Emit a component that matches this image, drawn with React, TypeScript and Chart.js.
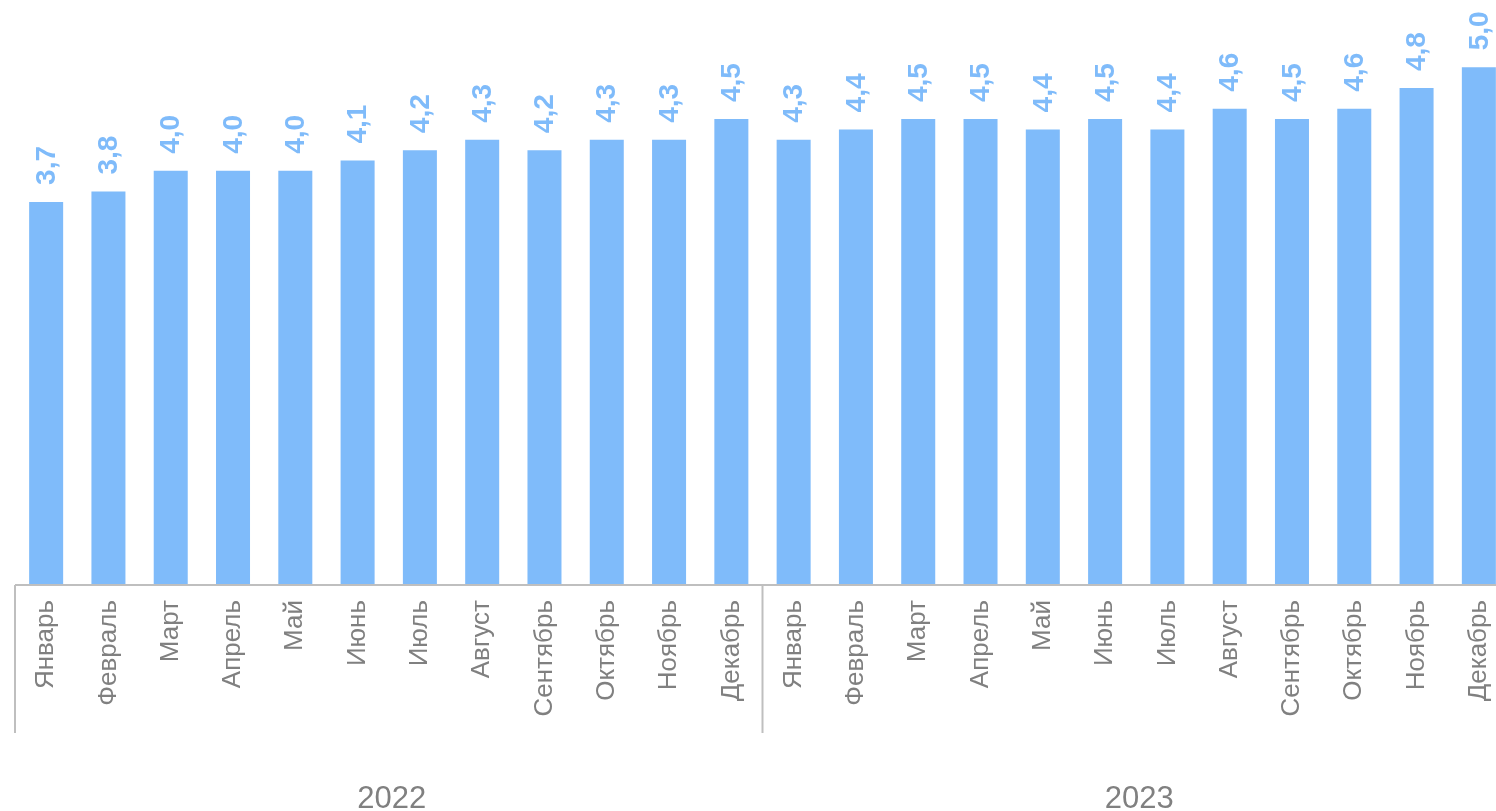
import React, { useEffect, useRef } from "react";
import { Chart, registerables } from "chart.js";

Chart.register(...registerables);

const months = [
  "Январь", "Февраль", "Март", "Апрель", "Май", "Июнь",
  "Июль", "Август", "Сентябрь", "Октябрь", "Ноябрь", "Декабрь",
];
const years = ["2022", "2023"];
const values2022 = [3.7, 3.8, 4.0, 4.0, 4.0, 4.1, 4.2, 4.3, 4.2, 4.3, 4.3, 4.5];
const values2023 = [4.3, 4.4, 4.5, 4.5, 4.4, 4.5, 4.4, 4.6, 4.5, 4.6, 4.8, 5.0];

const categories = [...months, ...months];
const values = [...values2022, ...values2023];

const BAR_COLOR = "#7fbbfa";
const AXIS_COLOR = "#bfbfbf";
const TEXT_COLOR = "#808080";
const FONT = "'Liberation Sans', Arial, sans-serif";

const overlayPlugin = {
  id: "overlay",
  afterDatasetsDraw(chart: any) {
    const { ctx } = chart;
    const meta = chart.getDatasetMeta(0);
    ctx.save();
    ctx.fillStyle = BAR_COLOR;
    ctx.font = `bold 28px ${FONT}`;
    ctx.textAlign = "left";
    ctx.textBaseline = "middle";
    meta.data.forEach((bar: any, i: number) => {
      const label = values[i].toFixed(1).replace(".", ",");
      ctx.save();
      ctx.translate(bar.x, bar.y - 17);
      ctx.rotate(-Math.PI / 2);
      ctx.fillText(label, 0, 1);
      ctx.restore();
    });
    ctx.restore();
  },
  afterDraw(chart: any) {
    const { ctx, chartArea } = chart;
    const x = chart.scales.x;
    const base = chartArea.bottom;
    const half = (x.getPixelForValue(1) - x.getPixelForValue(0)) / 2;
    ctx.save();
    ctx.strokeStyle = AXIS_COLOR;
    ctx.lineWidth = 2;
    ctx.beginPath();
    ctx.moveTo(chartArea.left, base);
    ctx.lineTo(chartArea.right, base);
    ctx.stroke();
    const n = months.length;
    for (let g = 0; g <= years.length; g++) {
      const px = g * n >= categories.length
        ? x.getPixelForValue(categories.length - 1) + half
        : x.getPixelForValue(g * n) - half;
      ctx.beginPath();
      ctx.moveTo(px, base);
      ctx.lineTo(px, base + 148);
      ctx.stroke();
    }
    ctx.fillStyle = TEXT_COLOR;
    ctx.font = `31px ${FONT}`;
    ctx.textAlign = "center";
    ctx.textBaseline = "alphabetic";
    years.forEach((y, g) => {
      const a = x.getPixelForValue(g * n) - half;
      const b = x.getPixelForValue(g * n + n - 1) + half;
      ctx.fillText(y, (a + b) / 2 + 3, 808);
    });
    ctx.restore();
  },
};

export default function App() {
  const ref = useRef<HTMLCanvasElement>(null);
  useEffect(() => {
    if (!ref.current) return;
    const chart = new Chart(ref.current, {
      type: "bar",
      data: {
        labels: categories,
        datasets: [
          {
            data: values,
            backgroundColor: BAR_COLOR,
            barPercentage: 0.546,
            categoryPercentage: 1,
          },
        ],
      },
      options: {
        animation: false,
        responsive: false,
        maintainAspectRatio: false,
        layout: { padding: { left: 15, right: 0, top: 0, bottom: 0 } },
        plugins: {
          legend: { display: false },
          tooltip: { enabled: false },
        },
        scales: {
          x: {
            grid: { display: false, drawTicks: false },
            border: { display: false },
            ticks: {
              minRotation: 90,
              maxRotation: 90,
              autoSkip: false,
              padding: 15,
              color: TEXT_COLOR,
              font: { family: FONT, size: 26 },
            },
            afterFit(scale: any) {
              scale.height = 226;
              scale.paddingLeft = 0;
              scale.paddingRight = 0;
            },
          },
          y: {
            display: false,
            min: 0,
            max: 5.65,
          },
        },
      },
      plugins: [overlayPlugin],
    });
    return () => chart.destroy();
  }, []);
  return (
    <div style={{ position: "fixed", left: 0, top: 0, width: 1496, height: 811, overflow: "hidden", background: "#fff" }}>
      <canvas ref={ref} width={1510} height={811} style={{ width: 1510, height: 811, display: "block" }} />
    </div>
  );
}
